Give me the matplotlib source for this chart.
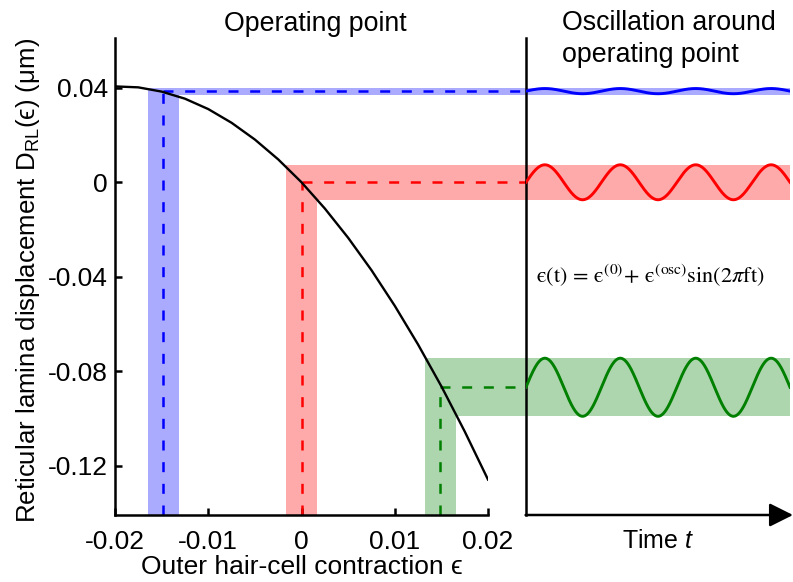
import numpy as np
import matplotlib
matplotlib.use("Agg")
import matplotlib.pyplot as plt
from matplotlib.patches import Polygon, FancyArrowPatch, ArrowStyle

# ---------------- data ----------------
eps = [-0.02, -0.0175, -0.015, -0.0125, -0.01, -0.0075, -0.005, -0.0025, 0.0,
       0.0025, 0.005, 0.0075, 0.01, 0.0125, 0.015, 0.0175, 0.02]
disp = [0.0406, 0.0402, 0.0384, 0.0354, 0.0310, 0.0252, 0.0181, 0.0097, 0.0,
        -0.0111, -0.0235, -0.0372, -0.0523, -0.0687, -0.0864, -0.1055, -0.1259]

op_eps = [-0.0148, 0.0, 0.0149]          # operating points eps^(0)
op_disp = [0.0385, 0.0, -0.0868]         # D_RL at operating points
eps_osc = [0.0017, 0.0017, 0.0017]       # oscillation amplitude in eps
disp_half = [0.0016, 0.0074, 0.0123]     # half-height of the D band
wave_center = [0.0386, 0.0, -0.0868]
wave_amp = [0.0011, 0.0074, 0.0123]
n_cycles = 3.5

line_colors = ["#0000ff", "#ff0000", "#008000"]
band_colors = ["#aaaaff", "#ffaaaa", "#aed6ae"]

xticks = [-0.02, -0.01, 0.0, 0.01, 0.02]
xticklabels = ["-0.02", "-0.01", "0", "0.01", "0.02"]
yticks = [0.04, 0.0, -0.04, -0.08, -0.12]
yticklabels = ["0.04", "0", "-0.04", "-0.08", "-0.12"]

# ---------------- style ----------------
plt.rcParams["font.family"] = ["Liberation Sans", "DejaVu Sans"]
plt.rcParams["mathtext.fontset"] = "custom"
plt.rcParams["mathtext.rm"] = "Liberation Sans"
plt.rcParams["mathtext.it"] = "Liberation Sans:italic"
plt.rcParams["mathtext.bf"] = "Liberation Sans:bold"
plt.rcParams["lines.scale_dashes"] = False

W, H = 793, 582
fig = plt.figure(figsize=(W / 100, H / 100), dpi=100)

def fx(px):
    return px / W

def fy(py):
    return 1 - py / H

ax_l, ax_r, ax_t, ax_b = 115, 488, 38, 515
r_l, r_r = 526, 790

ax = fig.add_axes([fx(ax_l), fy(ax_b), fx(ax_r) - fx(ax_l), fy(ax_t) - fy(ax_b)])
ax2 = fig.add_axes([fx(r_l), fy(ax_b), fx(r_r) - fx(r_l), fy(ax_t) - fy(ax_b)])

ymin, ymax = -0.1409, 0.0611
ax.set_xlim(-0.02, 0.02)
ax.set_ylim(ymin, ymax)
ax2.set_xlim(0, n_cycles)
ax2.set_ylim(ymin, ymax)

# data x positions (in left-axes units) of the right panel edges
fig.canvas.draw()
inv = ax.transData.inverted()
x_right_left = inv.transform(fig.transFigure.transform((fx(r_l), 0.5)))[0]
x_right_end = inv.transform(fig.transFigure.transform((fx(r_r), 0.5)))[0]

lw_sp = 1.8
for s in ["top", "right"]:
    ax.spines[s].set_visible(False)
for s in ["left", "bottom"]:
    ax.spines[s].set_linewidth(lw_sp)

ax.set_xticks(xticks)
ax.set_xticklabels(xticklabels)
ax.set_yticks(yticks)
ax.set_yticklabels(yticklabels)
ax.tick_params(direction="in", length=5, width=lw_sp, labelsize=19)
ax.tick_params(axis="x", pad=11)
ax.tick_params(axis="y", pad=5)

ax.set_xlabel("Outer hair-cell contraction ϵ", fontsize=19)
ax.xaxis.label.set_va("baseline")
ax.xaxis.set_label_coords(0.5, (ax_b - 574) / (ax_b - ax_t))
ax.set_ylabel("Reticular lamina displacement D$_{\\mathrm{RL}}$(ϵ) (μm)", fontsize=18.6)
ax.yaxis.label.set_va("center")
ax.yaxis.set_label_coords((28 - ax_l) / (ax_r - ax_l), (ax_b - 280) / (ax_b - ax_t))

# bands, dashed guides
for e0, d0, de, dh, lc, bc in zip(op_eps, op_disp, eps_osc, disp_half, line_colors, band_colors):
    verts = [(e0 - de, ymin), (e0 + de, ymin), (e0 + de, d0 - dh),
             (x_right_end, d0 - dh), (x_right_end, d0 + dh), (e0 - de, d0 + dh)]
    ax.add_patch(Polygon(verts, closed=True, facecolor=bc, edgecolor="none",
                         zorder=1, clip_on=False))
    ax.plot([e0, e0], [ymin, d0], color=lc, lw=1.8, dashes=(7.2, 8.4),
            zorder=2, clip_on=False)
    ax.plot([e0, x_right_left], [d0, d0], color=lc, lw=1.8, dashes=(7.2, 8.4),
            zorder=2, clip_on=False)

ax.plot(eps, disp, color="black", lw=1.7, zorder=3)

# right panel
ax2.patch.set_visible(False)
for s in ["top", "right", "bottom"]:
    ax2.spines[s].set_visible(False)
ax2.spines["left"].set_linewidth(lw_sp)
ax2.set_xticks([])
ax2.set_yticks([])

t = np.linspace(0, n_cycles, 600)
for c, a, lc in zip(wave_center, wave_amp, line_colors):
    ax2.plot(t, c + a * np.sin(2 * np.pi * t), color=lc, lw=2.1, zorder=3)

# time axis arrow
arrow = FancyArrowPatch((fx(r_l) - 0.0005, fy(ax_b)), (fx(793), fy(ax_b)),
                        transform=fig.transFigure,
                        arrowstyle=ArrowStyle("-|>", head_length=1.0, head_width=0.5),
                        mutation_scale=14.4, lw=lw_sp, color="black",
                        shrinkA=0, shrinkB=0)
fig.add_artist(arrow)

# texts
fig.text(fx(315), fy(31), "Operating point", fontsize=19.3, ha="center", va="baseline")
fig.text(fx(562), fy(30), "Oscillation around", fontsize=19.3, ha="left", va="baseline")
fig.text(fx(562), fy(62), "operating point", fontsize=19.3, ha="left", va="baseline")
fig.text(fx(658), fy(548), "Time $\\mathit{t}$", fontsize=18, ha="center", va="baseline")
fig.text(fx(536), fy(283),
         r"$\mathrm{ϵ(t)}\,=\,\mathrm{ϵ}^{(0)}\!+\,\mathrm{ϵ}^{(\mathrm{osc})}\mathrm{sin}(2\pi\mathrm{ft})$",
         fontsize=16, ha="left", va="baseline", math_fontfamily="stix")

fig.savefig("out.png", dpi=100)
